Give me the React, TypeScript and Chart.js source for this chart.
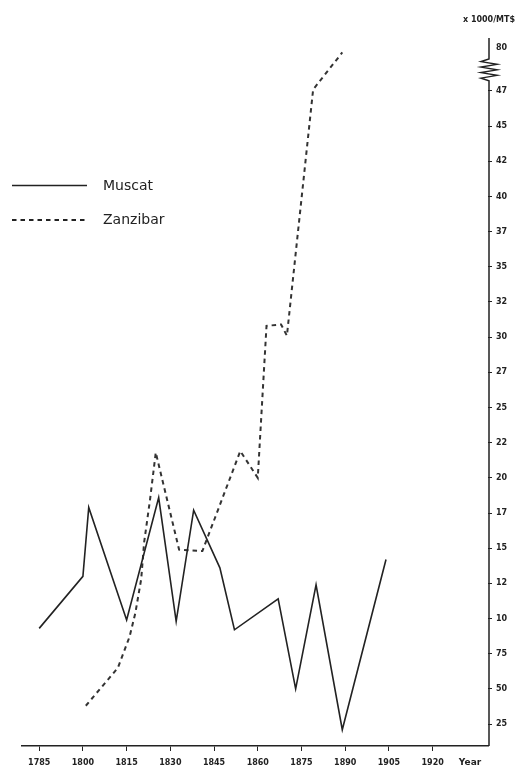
import React, { useEffect, useRef } from "react";
import { Chart, registerables } from "chart.js";

Chart.register(...registerables);

// ---- data (values in 1000 MT$) ----
const muscatYears = [1785, 1800, 1802, 1815, 1826, 1832, 1838, 1847, 1852, 1867, 1873, 1880, 1889, 1904];
const muscatValues = [93, 130, 179, 99, 186, 98, 177, 136, 92, 114, 50, 124, 21, 142];

const zanzibarYears = [1801, 1812, 1816, 1818, 1820, 1821, 1823, 1825, 1833, 1841, 1854, 1860, 1863, 1868, 1870, 1879, 1889];
const zanzibarValues = [38, 65, 87, 104, 128, 154, 184, 218, 149, 148, 219, 200, 308, 309, 301, 476, 760];

const xTickYears = [1785, 1800, 1815, 1830, 1845, 1860, 1875, 1890, 1905, 1920];
const yTickValues = [25, 50, 75, 100, 125, 150, 175, 200, 225, 250, 275, 300, 325, 350, 375, 400, 425, 450, 475, 800];
const yTickLabels = ["25", "50", "75", "10", "12", "15", "17", "20", "22", "25", "27", "30", "32", "35", "37", "40", "42", "45", "47", "80"];

const seriesNames = ["Muscat", "Zanzibar"];
const unitLabel = "x 1000/MT$";
const xAxisLabel = "Year";

// axis break: values above BREAK_AT are compressed
const BREAK_AT = 480;
const BREAK_SCALE = 25.5 / 320;
const toAxis = (v: number) => (v <= BREAK_AT ? v : BREAK_AT + (v - BREAK_AT) * BREAK_SCALE);

const INK = "#222";
const FONT = "DejaVu Sans";

export default function App() {
  const ref = useRef<HTMLCanvasElement | null>(null);

  useEffect(() => {
    const canvas = ref.current;
    if (!canvas) return;

    const decor = {
      id: "decor",
      afterDraw(chart: any) {
        const ctx = chart.ctx as CanvasRenderingContext2D;
        const area = chart.chartArea;
        const y = chart.scales.y;
        const ax = area.right + 1;
        ctx.save();
        // right axis with break
        const yBreakLow = y.getPixelForValue(toAxis(BREAK_AT)) - 3;
        const yBreakHigh = yBreakLow - 22;
        ctx.strokeStyle = INK;
        ctx.lineWidth = 1.5;
        ctx.beginPath();
        ctx.moveTo(ax, area.bottom);
        ctx.lineTo(ax, yBreakLow);
        const steps = 8;
        for (let i = 1; i < steps; i++) {
          const yy = yBreakLow - ((yBreakLow - yBreakHigh) * i) / steps;
          ctx.lineTo(i % 2 ? ax - 8 : ax + 8, yy);
        }
        ctx.lineTo(ax, yBreakHigh);
        ctx.lineTo(ax, area.top);
        ctx.stroke();

        // unit label
        ctx.fillStyle = INK;
        ctx.font = `bold 8px ${FONT}`;
        ctx.textAlign = "center";
        ctx.textBaseline = "middle";
        ctx.fillText(unitLabel, 489, 20);
        // x axis title
        ctx.font = `bold 9px ${FONT}`;
        ctx.fillText(xAxisLabel, 470, 763);

        // legend
        ctx.lineWidth = 1.6;
        ctx.beginPath();
        ctx.moveTo(12, 185.5);
        ctx.lineTo(87, 185.5);
        ctx.stroke();
        ctx.setLineDash([4.5, 4]);
        ctx.lineWidth = 2;
        ctx.beginPath();
        ctx.moveTo(12, 220);
        ctx.lineTo(87, 220);
        ctx.stroke();
        ctx.setLineDash([]);
        ctx.font = `14px ${FONT}`;
        ctx.textAlign = "left";
        ctx.fillText(seriesNames[0], 103, 186);
        ctx.fillText(seriesNames[1], 103, 220);
        ctx.restore();
      },
    };

    const chart = new Chart(canvas, {
      type: "line",
      data: {
        datasets: [
          {
            label: seriesNames[0],
            data: muscatYears.map((yr, i) => ({ x: yr, y: toAxis(muscatValues[i]) })),
            borderColor: INK,
            borderWidth: 1.6,
            pointRadius: 0,
            tension: 0,
            fill: false,
          },
          {
            label: seriesNames[1],
            data: zanzibarYears.map((yr, i) => ({ x: yr, y: toAxis(zanzibarValues[i]) })),
            borderColor: "#333",
            borderWidth: 2,
            borderDash: [4.5, 4],
            pointRadius: 0,
            tension: 0,
            fill: false,
          },
        ],
      },
      options: {
        animation: false,
        responsive: false,
        maintainAspectRatio: false,
        layout: { padding: { left: 22, top: 38, right: 0, bottom: 0 } },
        plugins: { legend: { display: false }, tooltip: { enabled: false }, title: { display: false } },
        scales: {
          x: {
            type: "linear",
            position: "bottom",
            min: 1779.1,
            max: 1939,
            afterBuildTicks: (s: any) => {
              s.ticks = xTickYears.map((v) => ({ value: v }));
            },
            afterFit: (s: any) => {
              s.height = 23;
            },
            ticks: {
              autoSkip: false,
              maxRotation: 0,
              padding: 7,
              color: INK,
              font: { family: FONT, size: 8, weight: "bold" },
              callback: (v: any) => String(v),
            },
            grid: { drawOnChartArea: false, drawTicks: true, tickLength: 5, color: INK, lineWidth: 1 },
            border: { display: true, color: INK, width: 1.5 },
          },
          y: {
            type: "linear",
            position: "right",
            min: 9.4,
            max: 512.6,
            afterBuildTicks: (s: any) => {
              s.ticks = yTickValues.map((v) => ({ value: toAxis(v) }));
            },
            afterFit: (s: any) => {
              s.width = 36;
            },
            ticks: {
              autoSkip: false,
              padding: 4,
              color: INK,
              font: { family: FONT, size: 8, weight: "bold" },
              callback: (_v: any, i: number) => yTickLabels[i],
            },
            grid: {
              drawOnChartArea: false,
              drawTicks: true,
              tickLength: 4,
              lineWidth: 1,
              color: (c: any) => (c.index === yTickValues.length - 1 ? "rgba(0,0,0,0)" : INK),
            },
            border: { display: false },
          },
        },
      },
      plugins: [decor],
    } as any);

    return () => chart.destroy();
  }, []);

  return (
    <div style={{ position: "absolute", left: 0, top: 0, width: 524, height: 769, background: "#fff" }}>
      <canvas ref={ref} width={524} height={769} style={{ display: "block" }} />
    </div>
  );
}
